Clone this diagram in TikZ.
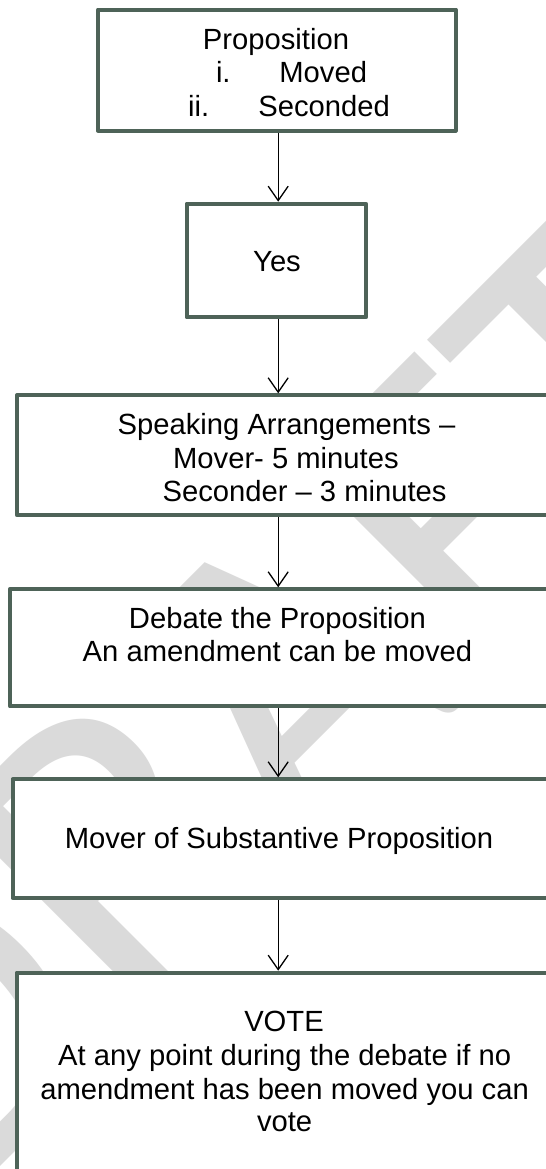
\documentclass[tikz,border=0pt]{standalone}
\usepackage{fontspec}
\setmainfont{Liberation Sans}
\newfontfamily\wmfont{Carlito}
\usetikzlibrary{arrows.meta,fit}
\definecolor{boxgreen}{RGB}{78,99,88}
\definecolor{wmgray}{RGB}{218,218,218}
\begin{document}
\begin{tikzpicture}[x=0.5pt,y=-0.5pt,
  box/.style={draw=boxgreen, line width=2pt, fill=white, inner sep=0pt, outer sep=1pt, rectangle, line join=round},
  txt/.style={inner sep=0pt, anchor=base, font=\fontsize{14.6}{16.8}\selectfont},
  txtw/.style={txt, anchor=base west},
  arr/.style={draw=black, line width=0.65pt, -{Straight Barb[length=7.2pt,width=10pt]}},
  wm/.style={rotate=45, text=wmgray, inner sep=0pt, font=\wmfont\fontsize{220}{220}\selectfont}
]
\useasboundingbox (0,0) rectangle (546,1169);
\clip (0,0) rectangle (546,1169);
\fill[white] (0,0) rectangle (546,1169);
% watermark
\node[wm] (wmark) at (258,709) {DRAFT};
% boxes
\node[box, fit={(97.9,9.5) (455.5,130.5)}] (b1) {};
\node[box, fit={(186.6,203.7) (366,317.3)}] (b2) {};
\node[box, fit={(17,395.3) (600,515.3)}] (b3) {};
\node[box, fit={(9.8,589.3) (600,706.3)}] (b4) {};
\node[box, fit={(12.5,779.3) (600,898)}] (b5) {};
\node[box, fit={(16.7,972.7) (600,1300)}] (b6) {};
% texts
\node[txt] (t1a) at (276,49.3) {Proposition};
\node[txtw] (t1b) at (215.6,82.7) {i.};
\node[txtw] (t1c) at (279,82.7) {Moved};
\node[txtw] (t1d) at (187.8,116.7) {ii.};
\node[txtw] (t1e) at (258,116.7) {Seconded};
\node[txt] (t2) at (277,271.7) {Yes};
\node[txt] (t3a) at (286.5,434) {Speaking Arrangements –};
\node[txt] (t3b) at (285.9,468.3) {Mover- 5 minutes};
\node[txt] (t3c) at (304.6,501.7) {Seconder – 3 minutes};
\node[txt] (t4a) at (277.5,628.3) {Debate the Proposition};
\node[txt] (t4b) at (277.5,661.7) {An amendment can be moved};
\node[txt] (t5) at (279,848.3) {Mover of Substantive Proposition};
\node[txt] (t6a) at (284,1031.7) {VOTE};
\node[txt] (t6b) at (284.7,1065.5) {At any point during the debate if no};
\node[txt] (t6c) at (284.6,1099.5) {amendment has been moved you can};
\node[txt] (t6d) at (284.6,1131.7) {vote};
% connectors
\coordinate (ax) at (278.2,0);
\draw[arr] (b1.south -| ax) -- (b2.north -| ax);
\draw[arr] (b2.south -| ax) -- (b3.north -| ax);
\draw[arr] (b3.south -| ax) -- (b4.north -| ax);
\draw[arr] (b4.south -| ax) -- (b5.north -| ax);
\draw[arr] (b5.south -| ax) -- (b6.north -| ax);
\end{tikzpicture}
\end{document}
